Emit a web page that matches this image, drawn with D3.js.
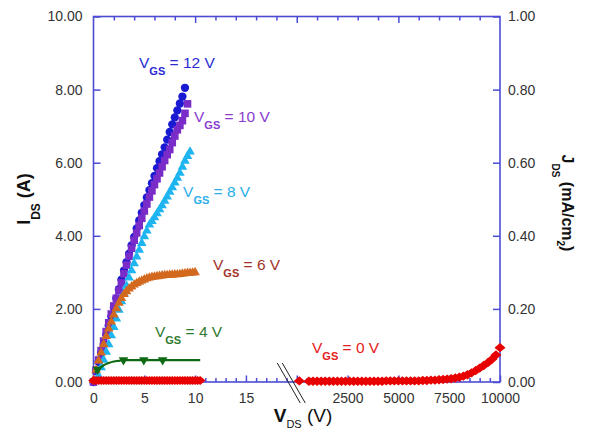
<!DOCTYPE html>
<html>
<head>
<meta charset="utf-8">
<script src="https://cdn.jsdelivr.net/npm/d3@7"></script>
<style>
  html, body { margin: 0; padding: 0; background: #fff; }
  svg { display: block; font-family: "Liberation Sans", Arial, Helvetica, sans-serif; }
</style>
</head>
<body>
<svg id="chart" width="592" height="440"></svg>
<script>
// ---------- measured output characteristics ----------
// [V_DS (V), I_DS (A)] for each gate voltage (low-voltage segment)
const vgs12 = [[0,0.0],[0.25,0.30],[0.5,0.55],[0.75,0.80],[1.0,1.02],[1.25,1.29],[1.5,1.55],[1.75,1.79],
  [2.0,2.03],[2.25,2.29],[2.5,2.54],[2.75,2.80],[3.0,3.05],[3.25,3.28],[3.5,3.51],[3.75,3.74],[4.0,3.97],
  [4.25,4.20],[4.5,4.42],[4.75,4.63],[5.0,4.84],[5.25,5.05],[5.5,5.25],[5.75,5.44],[6.0,5.64],[6.25,5.85],
  [6.5,6.04],[6.75,6.23],[7.0,6.42],[7.25,6.63],[7.5,6.84],[7.75,7.05],[8.0,7.24],[8.25,7.43],[8.5,7.62],
  [8.75,7.81],[9.0,8.05]];
const vgs10 = [[0,0.0],[0.25,0.32],[0.5,0.60],[0.75,0.86],[1.0,1.12],[1.25,1.38],[1.5,1.62],[1.75,1.86],
  [2.0,2.08],[2.25,2.29],[2.5,2.50],[2.75,2.71],[3.0,2.96],[3.25,3.20],[3.5,3.44],[3.75,3.66],[4.0,3.88],
  [4.25,4.08],[4.5,4.28],[4.75,4.48],[5.0,4.68],[5.25,4.87],[5.5,5.06],[5.75,5.23],[6.0,5.40],[6.25,5.56],
  [6.5,5.72],[6.75,5.89],[7.0,6.06],[7.25,6.22],[7.5,6.36],[7.75,6.55],[8.0,6.73],[8.25,6.90],[8.5,7.02],
  [8.75,7.15],[9.0,7.35],[9.25,7.61]];
const vgs8 = [[0.5,0.17],[0.75,0.40],[1.0,0.60],[1.25,0.82],[1.5,1.03],[1.75,1.27],[2.0,1.50],[2.25,1.73],
  [2.5,1.97],[2.75,2.20],[3.0,2.42],[3.25,2.63],[3.5,2.85],[3.75,3.05],[4.0,3.24],[4.25,3.43],[4.5,3.61],
  [4.75,3.80],[5.0,3.98],[5.25,4.14],[5.5,4.30],[5.75,4.40],[6.0,4.50],[6.25,4.61],[6.5,4.72],[6.75,4.83],
  [7.0,4.95],[7.25,5.07],[7.5,5.20],[7.75,5.32],[8.0,5.45],[8.25,5.58],[8.5,5.72],[8.75,5.88],[9.0,6.05],
  [9.25,6.18],[9.5,6.30]];
const vgs6 = [[0,0.05],[0.25,0.33],[0.5,0.58],[0.75,0.80],[1.0,1.03],[1.25,1.25],[1.5,1.46],[1.75,1.65],
  [2.0,1.84],[2.25,2.01],[2.5,2.16],[2.75,2.29],[3.0,2.40],[3.25,2.48],[3.5,2.55],[3.75,2.61],[4.0,2.66],
  [4.25,2.70],[4.5,2.74],[4.75,2.77],[5.0,2.80],[5.25,2.83],[5.5,2.85],[5.75,2.87],[6.0,2.88],[6.25,2.89],
  [6.5,2.90],[6.75,2.91],[7.0,2.92],[7.25,2.92],[7.5,2.93],[7.75,2.93],[8.0,2.94],[8.25,2.94],[8.5,2.95],
  [8.75,2.96],[9.0,2.97],[9.25,2.98],[9.5,2.98],[9.75,2.99],[10.0,3.00]];
const vgs4Curve = [[0.15,0.25],[0.5,0.36],[1.0,0.46],[1.5,0.52],[2.0,0.56],[2.5,0.58],[3.0,0.60],
  [4.0,0.60],[5.0,0.60],[6.0,0.60],[7.0,0.60],[8.0,0.60],[9.0,0.60],[10.0,0.60],[10.5,0.60]];
const vgs4Marks = [[0.4,0.34],[2.95,0.60],[4.95,0.60],[6.8,0.60]];
const vgs0Low = [[0,0.04],[0.25,0.04],[0.5,0.04],[0.75,0.04],[1.0,0.04],[1.25,0.04],[1.5,0.04],[1.75,0.04],
  [2.0,0.04],[2.25,0.04],[2.5,0.04],[2.75,0.04],[3.0,0.04],[3.25,0.04],[3.5,0.04],[3.75,0.04],[4.0,0.04],
  [4.25,0.04],[4.5,0.04],[4.75,0.04],[5.0,0.04],[5.25,0.04],[5.5,0.04],[5.75,0.04],[6.0,0.04],[6.25,0.04],
  [6.5,0.04],[6.75,0.04],[7.0,0.04],[7.25,0.04],[7.5,0.04],[7.75,0.04],[8.0,0.04],[8.25,0.04],[8.5,0.04],
  [8.75,0.04],[9.0,0.04],[9.25,0.04],[9.5,0.04],[9.75,0.04],[10.0,0.04],[10.25,0.04],[10.5,0.04]];
// blocking characteristic at V_GS = 0 V: [V_DS (V), J_DS (mA/cm^2)]
const vgs0High = [[125,0.003],[600,0.002],[800,0.002],[1000,0.002],[1200,0.002],[1400,0.002],[1600,0.002],
  [1800,0.002],[2000,0.002],[2200,0.002],[2400,0.002],[2600,0.002],[2800,0.002],[3000,0.002],[3200,0.002],
  [3400,0.002],[3600,0.002],[3800,0.002],[4000,0.002],[4200,0.002],[4400,0.003],[4600,0.003],[4800,0.003],
  [5000,0.003],[5200,0.003],[5400,0.003],[5600,0.003],[5800,0.003],[6000,0.003],[6200,0.004],[6400,0.004],
  [6600,0.005],[6800,0.005],[7000,0.006],[7200,0.007],[7400,0.008],[7600,0.009],[7800,0.011],[8000,0.013],
  [8200,0.016],[8400,0.020],[8600,0.025],[8800,0.031],[9000,0.038],[9200,0.045],[9400,0.053],[9600,0.062],
  [9800,0.074],[10000,0.094]];

// ---------- axis ticks ----------
const yTicksLeft = [0, 2, 4, 6, 8, 10];
const yTicksRight = [0, 0.2, 0.4, 0.6, 0.8, 1.0];
const xTicksLow = [0, 5, 10, 15];
const xTicksHigh = [2500, 5000, 7500, 10000];

// curve annotations: gate voltage and anchor (low segment in V / A, high segment in V / mA/cm^2)
const curveLabels = [
  { vgs: "12", seg: "low", x: 4.48, y: 8.59, color: "#2b2bd6" },
  { vgs: "10", seg: "low", x: 9.89, y: 7.11, color: "#8a3ccf" },
  { vgs: "8",  seg: "low", x: 8.81, y: 5.06, color: "#2aaee8" },
  { vgs: "6",  seg: "low", x: 11.76, y: 3.06, color: "#a2322a" },
  { vgs: "4",  seg: "low", x: 6.05, y: 1.23, color: "#2e7a2e" },
  { vgs: "0",  seg: "high", x: 750, y: 0.079, color: "#e62020" }
];

// ---------- layout ----------
const svg = d3.select("#chart");
const X0 = 93.5, XB = 296.75, X1 = 500, YT = 16.5, YB = 382;
const AXIS = "#4b4bd6", TXT = "#333";

const xLo = d3.scaleLinear().domain([0, 20]).range([X0, XB]);
const xHi = d3.scaleLinear().domain([0, 10000]).range([XB, X1]);
const xTop = d3.scaleLinear().domain([0, 20]).range([X0, X1]);
const yL = d3.scaleLinear().domain([0, 10]).range([YB, YT]);
const yR = d3.scaleLinear().domain([0, 1]).range([YB, YT]);

function styleAxis(g) {
  g.select(".domain").remove();
  g.selectAll(".tick line").attr("stroke", AXIS).attr("stroke-width", 1.5);
  g.selectAll(".tick text").attr("fill", TXT).attr("font-size", 14)
    .attr("font-family", "\"Liberation Sans\", Arial, sans-serif");
}

// bottom axis, low-voltage segment
svg.append("g").attr("transform", `translate(0,${YB})`)
  .call(d3.axisBottom(xLo).tickValues(xLo.ticks(20).filter(v => v % 5 !== 0)).tickSize(-4).tickFormat(""))
  .call(styleAxis);
svg.append("g").attr("transform", `translate(0,${YB})`)
  .call(d3.axisBottom(xLo).tickValues(xTicksLow).tickSize(-6.5).tickPadding(11).tickFormat(d3.format("d")))
  .call(styleAxis);
// bottom axis, high-voltage segment
svg.append("g").attr("transform", `translate(0,${YB})`)
  .call(d3.axisBottom(xHi).tickValues(d3.range(0, 10001, 500).filter(v => v % 2500 !== 0)).tickSize(-4).tickFormat(""))
  .call(styleAxis);
svg.append("g").attr("transform", `translate(0,${YB})`)
  .call(d3.axisBottom(xHi).tickValues([0]).tickSize(-6.5).tickFormat(""))
  .call(styleAxis);
svg.append("g").attr("transform", `translate(0,${YB})`)
  .call(d3.axisBottom(xHi).tickValues(xTicksHigh).tickSize(-6.5).tickPadding(11).tickFormat(d3.format("d")))
  .call(styleAxis);

// top axis (ticks only)
svg.append("g").attr("transform", `translate(0,${YT})`)
  .call(d3.axisTop(xTop).tickValues(xTop.ticks(20).filter(v => v % 5 !== 0)).tickSize(-4).tickFormat(""))
  .call(styleAxis);
svg.append("g").attr("transform", `translate(0,${YT})`)
  .call(d3.axisTop(xTop).tickValues([5, 10, 15]).tickSize(-6.5).tickFormat(""))
  .call(styleAxis);

// left and right axes
svg.append("g").attr("transform", `translate(${X0},0)`)
  .call(d3.axisLeft(yL).tickValues(yTicksLeft).tickSize(-7).tickPadding(11).tickFormat(d3.format(".2f")))
  .call(styleAxis);
svg.append("g").attr("transform", `translate(${X1},0)`)
  .call(d3.axisRight(yR).tickValues(yTicksRight).tickSize(-7).tickPadding(8).tickFormat(d3.format(".2f")))
  .call(styleAxis);

// plot frame
svg.append("rect").attr("x", X0).attr("y", YT).attr("width", X1 - X0).attr("height", YB - YT)
  .attr("fill", "none").attr("stroke", AXIS).attr("stroke-width", 1.6);

// axis break marks
const breakG = svg.append("g").attr("stroke", "#222").attr("stroke-width", 1);
[-8.5, -3.5].forEach(off => {
  breakG.append("line")
    .attr("x1", XB + off - 11).attr("y1", YB - 19)
    .attr("x2", XB + off + 12).attr("y2", YB + 21);
});

// ---------- markers ----------
const wideDiamond = {
  draw(ctx, size) {
    const a = Math.sqrt(size / 2) * 1.08, b = Math.sqrt(size / 2) * 0.92;
    ctx.moveTo(0, -b); ctx.lineTo(a, 0); ctx.lineTo(0, b); ctx.lineTo(-a, 0); ctx.closePath();
  }
};

function drawSeries(data, xs, ys, type, size, color, rotate) {
  svg.append("g").selectAll("path").data(data).join("path")
    .attr("d", d3.symbol().type(type).size(size))
    .attr("transform", d => `translate(${xs(d[0])},${ys(d[1])})` + (rotate ? ` rotate(${rotate})` : ""))
    .attr("fill", color);
}

drawSeries(vgs12, xLo, yL, d3.symbolCircle, 54, "#1a1ad2");
drawSeries(vgs10, xLo, yL, d3.symbolSquare, 58, "#7a2cc8");
drawSeries(vgs8, xLo, yL, d3.symbolTriangle, 40, "#1eb4f0");
drawSeries(vgs6, xLo, yL, d3.symbolTriangle, 40, "#d2691e");

// V_GS = 4 V: line with sparse markers
svg.append("path").datum(vgs4Curve)
  .attr("d", d3.line().x(d => xLo(d[0])).y(d => yL(d[1])).curve(d3.curveMonotoneX))
  .attr("fill", "none").attr("stroke", "#0e6a12").attr("stroke-width", 2.2);
drawSeries(vgs4Marks, xLo, yL, d3.symbolTriangle, 40, "#0e6a12", 180);

// V_GS = 0 V
drawSeries(vgs0Low, xLo, yL, wideDiamond, 48, "#e80000");
drawSeries(vgs0High, xHi, yR, wideDiamond, 52, "#e80000");

// ---------- curve labels ----------
curveLabels.forEach(l => {
  const px = l.seg === "low" ? xLo(l.x) : xHi(l.x);
  const py = l.seg === "low" ? yL(l.y) : yR(l.y);
  const t = svg.append("text").attr("x", px).attr("y", py).attr("fill", l.color)
    .attr("font-size", 15.5);
  t.append("tspan").text("V");
  t.append("tspan").attr("font-size", 11).attr("font-weight", "bold").attr("dy", 7).text("GS");
  t.append("tspan").attr("dy", -7).text(` = ${l.vgs} V`);
});

// ---------- axis titles ----------
const yTitle = svg.append("text").attr("transform", "translate(30,199) rotate(-90)")
  .attr("text-anchor", "middle").attr("font-weight", "bold").attr("fill", "#111").attr("font-size", 18);
yTitle.append("tspan").text("I");
yTitle.append("tspan").attr("font-size", 12).attr("dy", 10).text("DS");
yTitle.append("tspan").attr("dy", -10).text(" (A)");

const jTitle = svg.append("text").attr("transform", "translate(562,203) rotate(90)")
  .attr("text-anchor", "middle").attr("font-weight", "bold").attr("fill", "#111").attr("font-size", 16);
jTitle.append("tspan").text("J");
jTitle.append("tspan").attr("font-size", 10).attr("dy", 10).text("DS");
jTitle.append("tspan").attr("dy", -10).text(" (mA/cm");
jTitle.append("tspan").attr("font-size", 10).attr("dy", 5).text("2");
jTitle.append("tspan").attr("dy", -5).text(")");

const xTitle = svg.append("text").attr("x", 303).attr("y", 422)
  .attr("text-anchor", "middle").attr("fill", "#111").attr("font-size", 19);
xTitle.append("tspan").attr("font-weight", "bold").text("V");
xTitle.append("tspan").attr("font-size", 11).attr("dy", 6).text("DS");
xTitle.append("tspan").attr("dy", -6).text(" (V)");
</script>
</body>
</html>
